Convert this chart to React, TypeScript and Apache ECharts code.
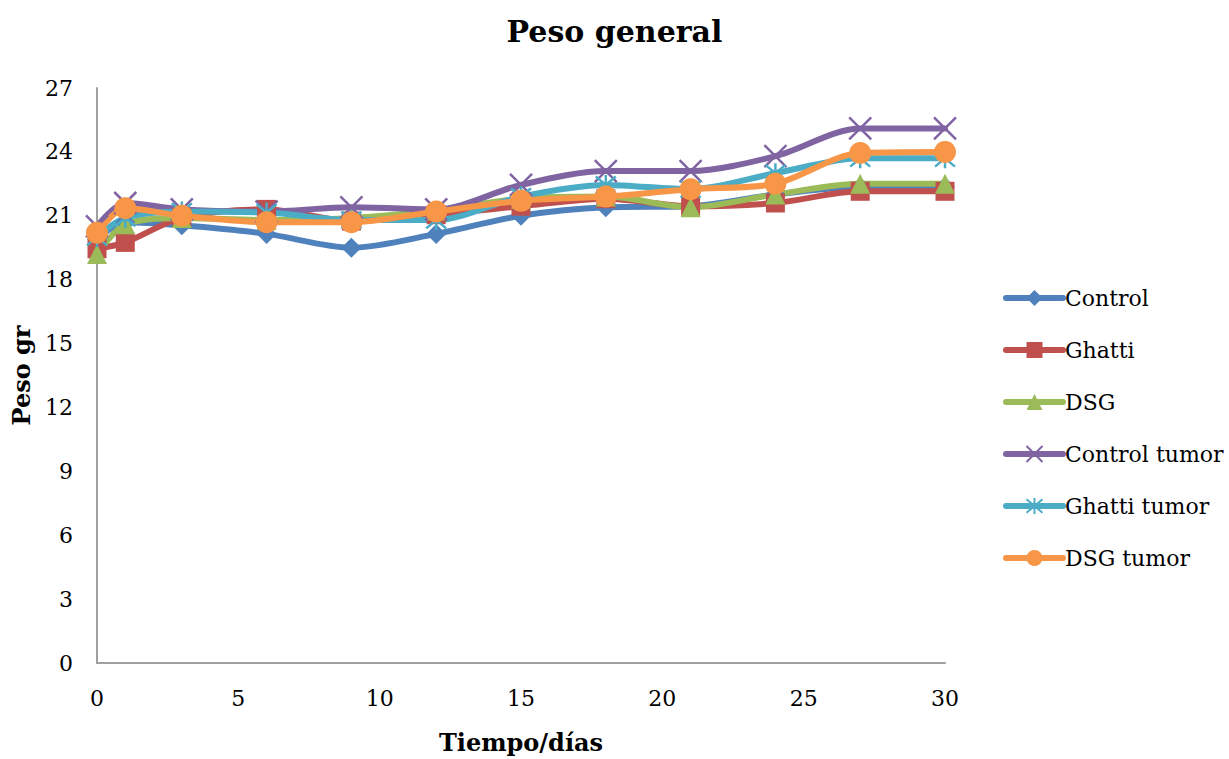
import React, { useEffect, useRef } from "react";
import * as echarts from "echarts";

const days = [0, 1, 3, 6, 9, 12, 15, 18, 21, 24, 27, 30];
const control = [19.9, 20.7, 20.55, 20.15, 19.5, 20.15, 21.0, 21.4, 21.45, 22.0, 22.35, 22.35];
const ghatti = [19.45, 19.75, 20.9, 21.3, 20.75, 21.05, 21.45, 21.8, 21.45, 21.6, 22.15, 22.15];
const dsg = [19.2, 20.6, 20.9, 20.8, 20.9, 21.25, 21.8, 21.9, 21.4, 22.0, 22.5, 22.5];
const controlTumor = [20.5, 21.6, 21.3, 21.2, 21.4, 21.3, 22.45, 23.1, 23.1, 23.8, 25.1, 25.1];
const ghattiTumor = [20.0, 20.9, 21.2, 21.15, 20.8, 20.8, 21.9, 22.45, 22.25, 23.0, 23.7, 23.7];
const dsgTumor = [20.2, 21.35, 21.0, 20.7, 20.7, 21.2, 21.7, 21.9, 22.25, 22.5, 23.95, 24.0];

const seriesNames = ["Control", "Ghatti", "DSG", "Control tumor", "Ghatti tumor", "DSG tumor"];
const seriesData = [control, ghatti, dsg, controlTumor, ghattiTumor, dsgTumor];
const colors = ["#4F81BD", "#C0504D", "#9BBB59", "#8064A2", "#4BACC6", "#F79646"];
const symbols = [
  "diamond",
  "rect",
  "triangle",
  "path://M0,0 L10,10 M10,0 L0,10",
  "path://M0,0 L10,10 M10,0 L0,10 M5,-1 L5,11",
  "circle",
];
const symbolSizes = [20, 19, 20, 22, 20, 22];

const FONT = "DejaVu Serif";

export default function App() {
  const ref = useRef<HTMLDivElement>(null);
  useEffect(() => {
    if (!ref.current) return;
    const chart = echarts.init(ref.current, null, { renderer: "svg" });
    const series = seriesNames.map((name, i) => {
      const isStroke = i === 3 || i === 4;
      return {
        name,
        type: "line",
        smooth: 0.3,
        data: days.map((d, j) => [d, seriesData[i][j]]),
        symbol: symbols[i],
        symbolSize: symbolSizes[i],
        showAllSymbol: true,
        lineStyle: { color: colors[i], width: 6, cap: "round" },
        itemStyle: isStroke
          ? { color: colors[i], borderColor: colors[i], borderWidth: 2.5 }
          : { color: colors[i], borderColor: colors[i], borderWidth: 0 },
      };
    });
    chart.setOption({
      animation: false,
      backgroundColor: "#ffffff",
      textStyle: { fontFamily: FONT },
      title: {
        text: "Peso general",
        left: "center",
        top: 11,
        textStyle: { fontFamily: FONT, fontSize: 30, fontWeight: "bold", color: "#000" },
      },
      legend: {
        orient: "vertical",
        left: 998,
        top: 282,
        itemWidth: 57,
        itemHeight: 20,
        itemGap: 30,
        lineStyle: { width: 6, cap: "round" },
        textStyle: { fontFamily: FONT, fontSize: 22, color: "#000", padding: [0, 0, 0, -3] },
        data: seriesNames,
      },
      grid: { left: 97, right: 284, top: 88, bottom: 93, containLabel: false },
      xAxis: {
        type: "value",
        min: 0,
        max: 30,
        interval: 5,
        name: "Tiempo/días",
        nameLocation: "middle",
        nameGap: 67,
        nameTextStyle: { fontFamily: FONT, fontSize: 24, fontWeight: "bold", color: "#000" },
        axisLine: { lineStyle: { color: "#A0A0A0", width: 2 } },
        axisTick: { show: false },
        splitLine: { show: false },
        axisLabel: { fontFamily: FONT, fontSize: 22, color: "#000", margin: 24 },
      },
      yAxis: {
        type: "value",
        min: 0,
        max: 27,
        interval: 3,
        name: "Peso gr",
        nameLocation: "middle",
        nameGap: 64,
        nameTextStyle: { fontFamily: FONT, fontSize: 24, fontWeight: "bold", color: "#000" },
        axisLine: { show: true, lineStyle: { color: "#A0A0A0", width: 2 } },
        axisTick: { show: false },
        splitLine: { show: false },
        axisLabel: { fontFamily: FONT, fontSize: 22, color: "#000", margin: 24 },
      },
      series,
    });
    return () => chart.dispose();
  }, []);
  return <div ref={ref} style={{ width: 1229, height: 759, position: "absolute", left: 0, top: 0 }} />;
}
